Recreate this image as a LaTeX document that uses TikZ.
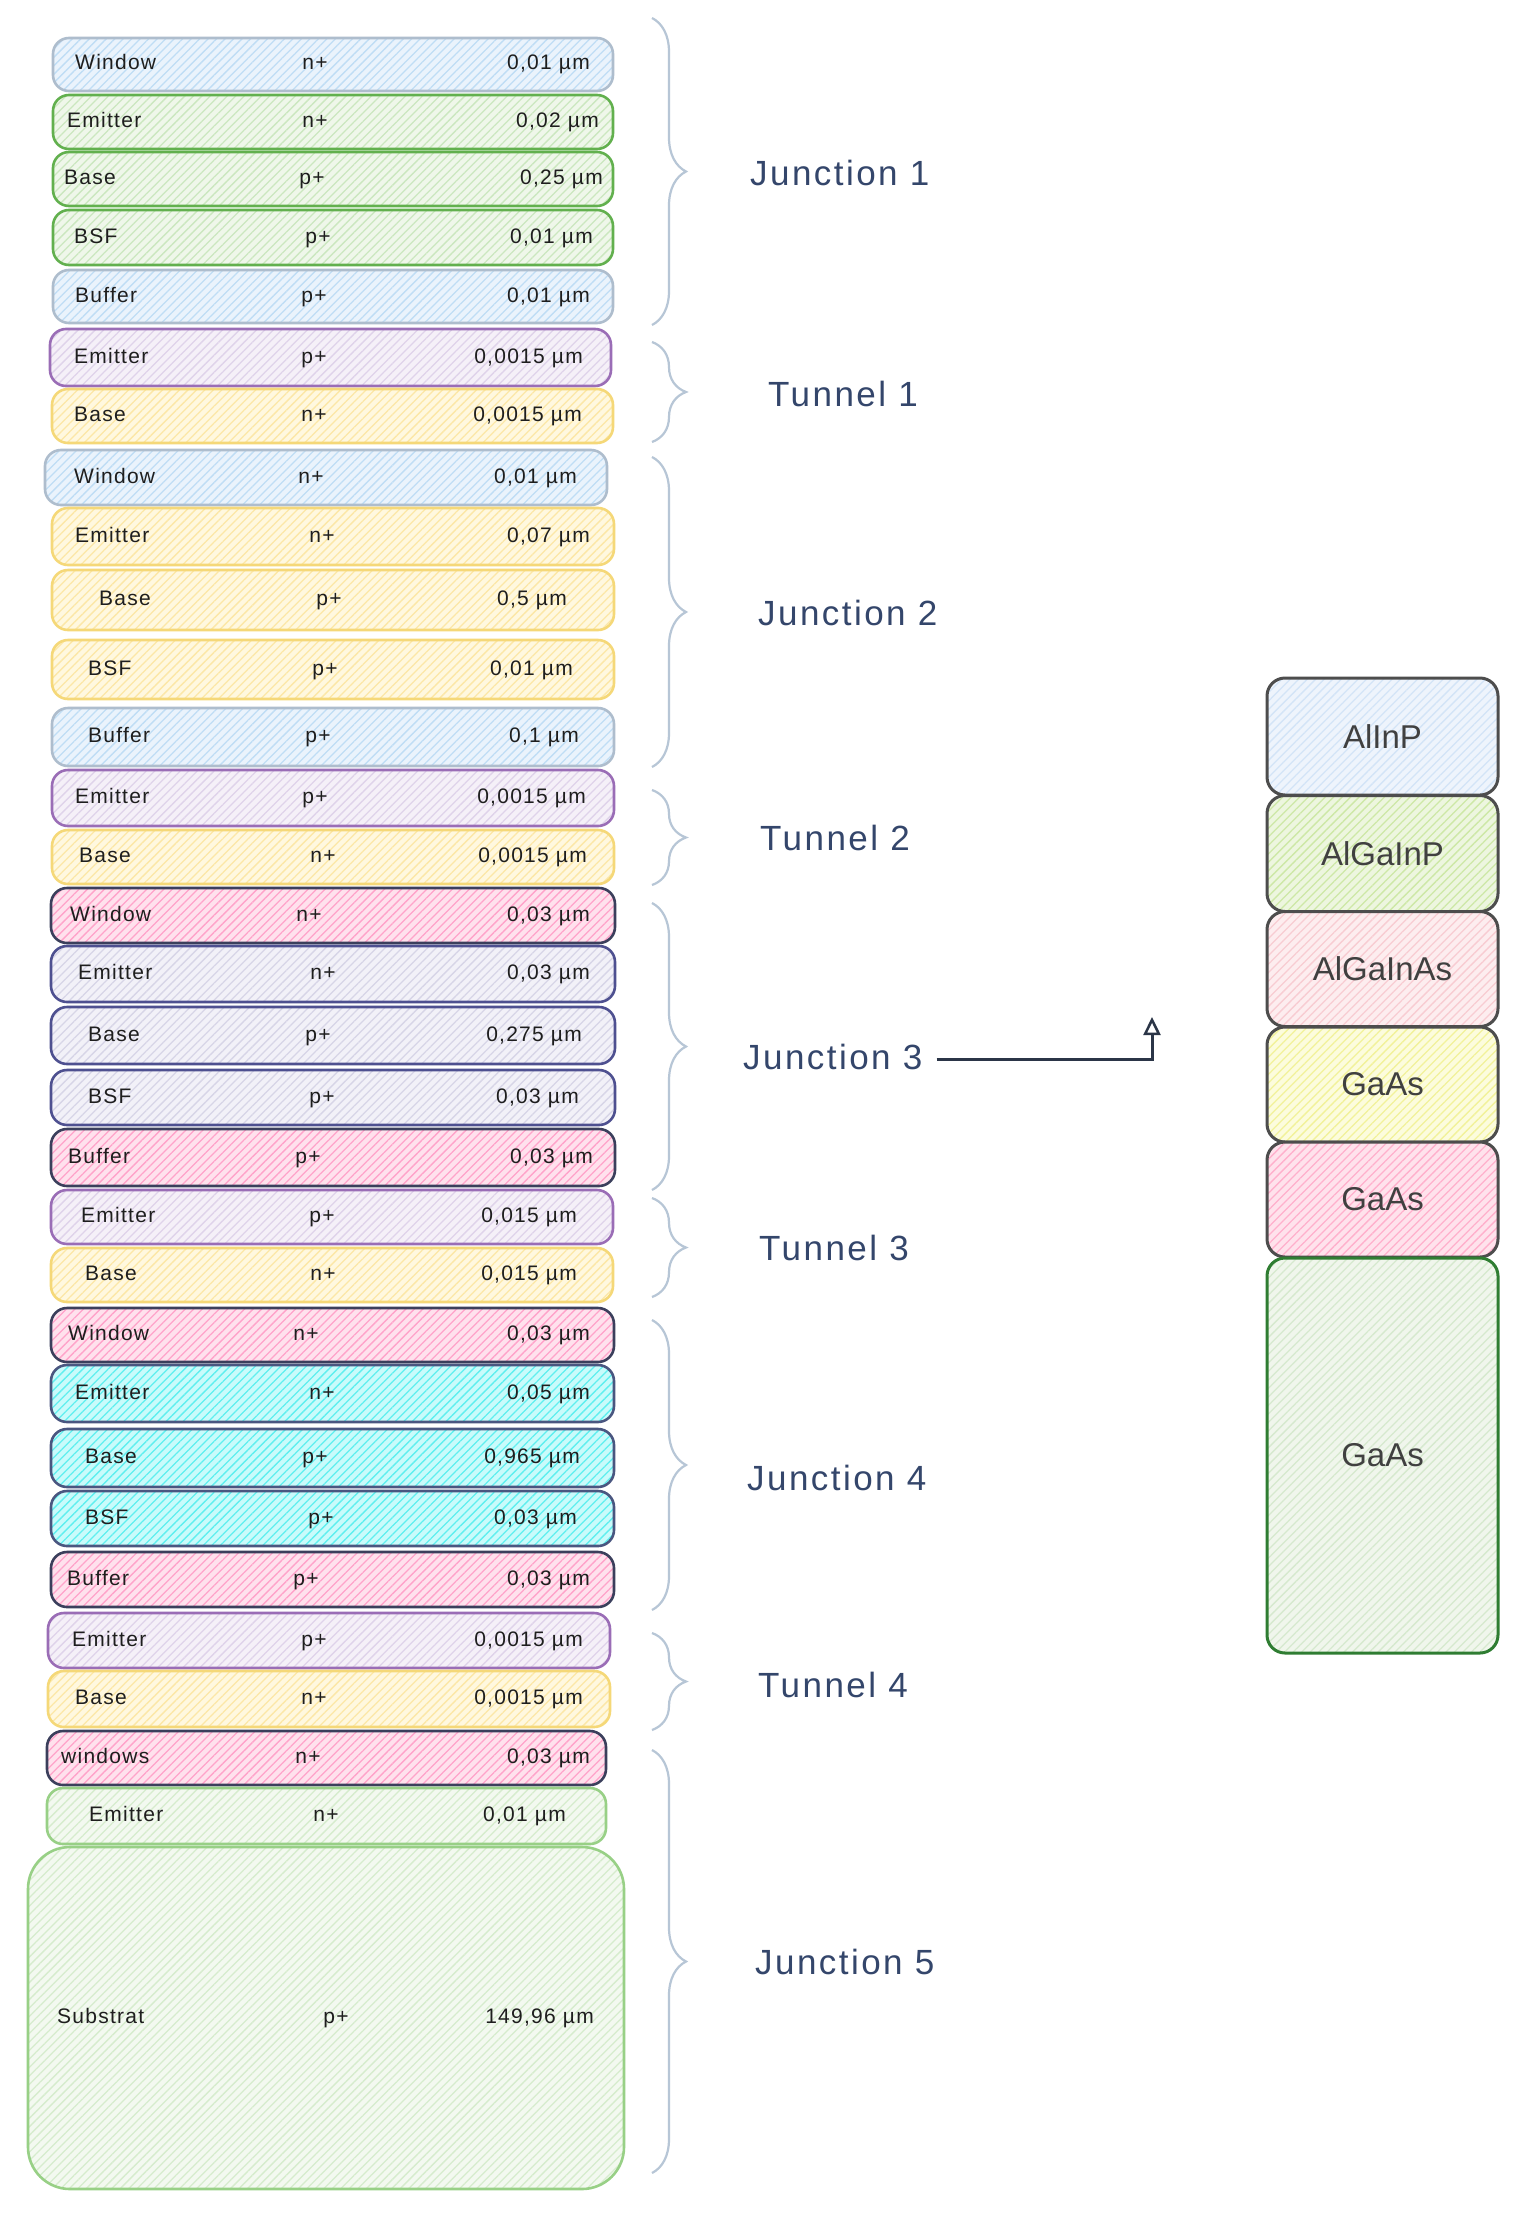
\documentclass[tikz,border=0pt]{standalone}
\usepackage{fontspec}
\setmainfont{Liberation Sans}
\newfontfamily\jfont[LetterSpace=7]{Liberation Sans}
\newfontfamily\rfont[LetterSpace=6]{Liberation Sans}
\usetikzlibrary{patterns.meta,decorations.pathreplacing,arrows.meta}

\definecolor{ink}{HTML}{1E1E1E}
\definecolor{labc}{HTML}{34466B}
\definecolor{brc}{HTML}{B7C6D6}
\definecolor{arc}{HTML}{2B3547}
% layer colours: F fill, H hatch, S stroke
\definecolor{blueF}{HTML}{EAF3FC}\definecolor{blueH}{HTML}{BFDDF5}\definecolor{blueS}{HTML}{AEBDCD}
\definecolor{greenF}{HTML}{EFF7EA}\definecolor{greenH}{HTML}{CBE7BF}\definecolor{greenS}{HTML}{62B04E}
\definecolor{grnbF}{HTML}{F3F9F0}\definecolor{grnbH}{HTML}{D6ECCD}\definecolor{grnbS}{HTML}{98D086}
\definecolor{purF}{HTML}{F5F0F8}\definecolor{purH}{HTML}{DFD3EA}\definecolor{purS}{HTML}{9A6DB6}
\definecolor{yelF}{HTML}{FFF8DF}\definecolor{yelH}{HTML}{FCE7A6}\definecolor{yelS}{HTML}{F5D878}
\definecolor{pinkF}{HTML}{FFE1ED}\definecolor{pinkH}{HTML}{FFA3CA}\definecolor{pinkS}{HTML}{3B3F5C}
\definecolor{lavF}{HTML}{F2F1F8}\definecolor{lavH}{HTML}{D7D5E7}\definecolor{lavS}{HTML}{4E5090}
\definecolor{cyanF}{HTML}{C9FBFB}\definecolor{cyanH}{HTML}{5FEFEF}\definecolor{cyanS}{HTML}{4A5680}
% material column
\definecolor{m1F}{HTML}{EEF4FC}\definecolor{m1H}{HTML}{D3E4F7}
\definecolor{m2F}{HTML}{EDF6DF}\definecolor{m2H}{HTML}{CDE8A6}
\definecolor{m3F}{HTML}{FDEDEF}\definecolor{m3H}{HTML}{F8CCD2}
\definecolor{m4F}{HTML}{FCFCDD}\definecolor{m4H}{HTML}{F2F29A}
\definecolor{m5F}{HTML}{FFE2EC}\definecolor{m5H}{HTML}{FFB0CC}
\definecolor{m6F}{HTML}{F0F6EC}\definecolor{m6H}{HTML}{D6E9CE}
\definecolor{matS}{HTML}{4D4D4D}\definecolor{matG}{HTML}{2F7D32}

\tikzset{
  hatch/.style={pattern={Lines[angle=45,distance=6pt,line width=1.3pt]},pattern color=#1},
  row/.style={rectangle,rounded corners=16pt,line width=2.6pt,inner sep=0pt},
  cblue/.style={preaction={fill=blueF},hatch=blueH,draw=blueS},
  cgreen/.style={preaction={fill=greenF},hatch=greenH,draw=greenS},
  cgrnb/.style={preaction={fill=grnbF},hatch=grnbH,draw=grnbS},
  cpur/.style={preaction={fill=purF},hatch=purH,draw=purS},
  cyel/.style={preaction={fill=yelF},hatch=yelH,draw=yelS},
  cpink/.style={preaction={fill=pinkF},hatch=pinkH,draw=pinkS},
  clav/.style={preaction={fill=lavF},hatch=lavH,draw=lavS},
  ccyan/.style={preaction={fill=cyanF},hatch=cyanH,draw=cyanS},
  rtext/.style={font=\rfont\fontsize{21}{24}\selectfont,text=ink,inner sep=0pt,text height=15pt,text depth=4pt},
  jlab/.style={font=\jfont\fontsize{35}{40}\selectfont,text=labc,inner sep=0pt,anchor=west},
  mat/.style={rectangle,rounded corners=18pt,line width=3pt,draw=matS,inner sep=0pt,
    minimum width=231pt,font=\fontsize{33}{38}\selectfont,text=ink!85},
  brace/.style={decorate,decoration={brace,amplitude=34pt},draw=brc,line width=2.2pt},
  arr/.style={draw=arc,line width=3pt,-{Triangle[open,length=18pt,width=17pt,line width=2.5pt]}}
}

\newcommand\layer[8]{\def\lname{#1}\def\lsty{#2}\def\ltop{#3}\def\lbot{#4}%
  \def\llab{#5}\def\llx{#6}\def\ldop{#7}\def\ldx{#8}\layerB}
\newcommand\layerB[2]{%
  \pgfmathsetmacro\lmid{(\ltop+\lbot)/2}%
  \pgfmathsetmacro\lh{\lbot-\ltop}%
  \pgfmathsetmacro\lcx{(\xL+\xR)/2}%
  \pgfmathsetmacro\lw{\xR-\xL}%
  \tikzset{cur/.style/.expanded={\lsty}}%
  \node[row,cur,minimum width=\lw pt,minimum height=\lh pt] (\lname) at (\lcx,\lmid) {};
  \node[rtext,anchor=west] (\lname-a) at (\llx,\lmid) {\llab};
  \node[rtext] (\lname-b) at (\ldx,\lmid) {\ldop};
  \node[rtext,anchor=east] (\lname-c) at (#1,\lmid) {#2};
}

\begin{document}
\begin{tikzpicture}[x=1pt,y=-1pt]
\useasboundingbox (0,0) rectangle (1535,2224);
\fill[white] (0,0) rectangle (1535,2224);

\def\xL{53}\def\xR{613}
% Junction 1
\layer{r1}{cblue}{38}{91}{Window}{75}{n+}{315}{590}{0,01 µm}
\layer{r2}{cgreen}{95}{149}{Emitter}{67}{n+}{315}{599}{0,02 µm}
\layer{r3}{cgreen}{152}{206}{Base}{64}{p+}{312}{603}{0,25 µm}
\layer{r4}{cgreen}{210}{265}{BSF}{74}{p+}{318}{593}{0,01 µm}
\layer{r5}{cblue}{270}{323}{Buffer}{75}{p+}{314}{590}{0,01 µm}
% Tunnel 1
\def\xL{50}\def\xR{611}
\layer{r6}{cpur}{329}{386}{Emitter}{74}{p+}{314}{583}{0,0015 µm}
\def\xL{52}\def\xR{613}
\layer{r7}{cyel}{389}{443}{Base}{74}{n+}{314}{582}{0,0015 µm}
% Junction 2
\def\xL{45}\def\xR{607}
\layer{r8}{cblue}{450}{505}{Window}{74}{n+}{311}{577}{0,01 µm}
\def\xL{52}\def\xR{614}
\layer{r9}{cyel}{508}{565}{Emitter}{75}{n+}{322}{590}{0,07 µm}
\layer{r10}{cyel}{570}{630}{Base}{99}{p+}{329}{567}{0,5 µm}
\layer{r11}{cyel}{640}{699}{BSF}{88}{p+}{325}{573}{0,01 µm}
\layer{r12}{cblue}{708}{766}{Buffer}{88}{p+}{318}{579}{0,1 µm}
% Tunnel 2
\layer{r13}{cpur}{770}{826}{Emitter}{75}{p+}{315}{586}{0,0015 µm}
\layer{r14}{cyel}{830}{884}{Base}{79}{n+}{323}{587}{0,0015 µm}
% Junction 3
\def\xL{51}\def\xR{615}
\layer{r15}{cpink}{888}{943}{Window}{70}{n+}{309}{590}{0,03 µm}
\layer{r16}{clav}{946}{1002}{Emitter}{78}{n+}{323}{590}{0,03 µm}
\layer{r17}{clav}{1007}{1064}{Base}{88}{p+}{318}{582}{0,275 µm}
\layer{r18}{clav}{1070}{1125}{BSF}{88}{p+}{322}{579}{0,03 µm}
\layer{r19}{cpink}{1129}{1186}{Buffer}{68}{p+}{308}{593}{0,03 µm}
% Tunnel 3
\def\xL{51}\def\xR{613}
\layer{r20}{cpur}{1190}{1244}{Emitter}{81}{p+}{322}{577}{0,015 µm}
\layer{r21}{cyel}{1248}{1302}{Base}{85}{n+}{323}{577}{0,015 µm}
% Junction 4
\def\xL{51}\def\xR{614}
\layer{r22}{cpink}{1308}{1362}{Window}{68}{n+}{306}{590}{0,03 µm}
\layer{r23}{ccyan}{1365}{1422}{Emitter}{75}{n+}{322}{590}{0,05 µm}
\layer{r24}{ccyan}{1429}{1487}{Base}{85}{p+}{315}{580}{0,965 µm}
\layer{r25}{ccyan}{1491}{1546}{BSF}{85}{p+}{321}{577}{0,03 µm}
\layer{r26}{cpink}{1552}{1607}{Buffer}{67}{p+}{306}{590}{0,03 µm}
% Tunnel 4
\def\xL{48}\def\xR{610}
\layer{r27}{cpur}{1613}{1668}{Emitter}{72}{p+}{314}{583}{0,0015 µm}
\layer{r28}{cyel}{1671}{1727}{Base}{75}{n+}{314}{583}{0,0015 µm}
% Junction 5
\def\xL{47}\def\xR{606}
\layer{r29}{cpink}{1731}{1785}{windows}{61}{n+}{308}{590}{0,03 µm}
\layer{r30}{cgrnb}{1788}{1844}{Emitter}{89}{n+}{326}{566}{0,01 µm}
\def\xL{28}\def\xR{624}
\layer{r31}{cgrnb,rounded corners=42pt}{1847}{2189}{Substrat}{57}{p+}{336}{594}{149,96 µm}

% braces
\foreach \n/\a/\b in {b1/18/325, b2/342/442, b3/457/767, b4/790/885, b5/903/1190,
                      b6/1198/1297, b7/1320/1610, b8/1633/1730, b9/1750/2173}{
  \coordinate (\n t) at (652,\a);
  \coordinate (\n b) at (652,\b);
  \draw[brace] (\n t) -- (\n b);
}

% group labels
\node[jlab] (j1) at (750,173) {Junction 1};
\node[jlab] (t1) at (768,394) {Tunnel 1};
\node[jlab] (j2) at (758,613) {Junction 2};
\node[jlab] (t2) at (760,838) {Tunnel 2};
\node[jlab] (j3) at (743,1057) {Junction 3};
\node[jlab] (t3) at (759,1248) {Tunnel 3};
\node[jlab] (j4) at (747,1478) {Junction 4};
\node[jlab] (t4) at (758,1685) {Tunnel 4};
\node[jlab] (j5) at (755,1962) {Junction 5};

% arrow
\coordinate (atip) at (1152,1017);
\draw[arr] ([xshift=14pt,yshift=-2pt]j3.east) -| (atip);

% material column
\node[mat,preaction={fill=m1F},hatch=m1H,minimum height=117pt] (m1) at (1382.5,736.5) {AlInP};
\node[mat,preaction={fill=m2F},hatch=m2H,minimum height=116pt] (m2) at (1382.5,853.5) {AlGaInP};
\node[mat,preaction={fill=m3F},hatch=m3H,minimum height=115pt] (m3) at (1382.5,969) {AlGaInAs};
\node[mat,preaction={fill=m4F},hatch=m4H,minimum height=115pt] (m4) at (1382.5,1084.5) {GaAs};
\node[mat,preaction={fill=m5F},hatch=m5H,minimum height=115pt] (m5) at (1382.5,1199.5) {GaAs};
\node[mat,preaction={fill=m6F},hatch=m6H,draw=matG,minimum height=395pt] (m6) at (1382.5,1455.5) {GaAs};
\end{tikzpicture}
\end{document}
